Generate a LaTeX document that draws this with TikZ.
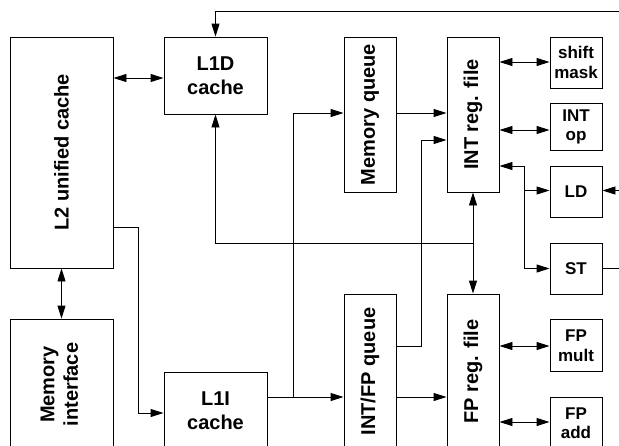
\documentclass[tikz,border=0pt]{standalone}
\usepackage{fontspec}
\setmainfont{Liberation Sans}
\usetikzlibrary{arrows.meta}
\tikzset{
  box/.style={draw, line width=0.9pt, inner sep=0pt, align=center, font=\bfseries\fontsize{20}{23.5}\selectfont},
  smallbox/.style={box, minimum width=52pt, minimum height=51pt, font=\bfseries\fontsize{17}{19.5}\selectfont},
  conn/.style={line width=0.9pt, >={Triangle[length=13pt,width=8pt]}},
}
\begin{document}
\begin{tikzpicture}[x=1pt,y=-1pt]
\useasboundingbox (0,0) rectangle (619,445);
\clip (0,0) rectangle (619,445);
% boxes
\node[box, minimum width=103pt, minimum height=231pt] (L2) at (61.5,152.5) {\rotatebox{90}{L2 unified cache}};
\node[box, minimum width=103pt, minimum height=77pt] (L1D) at (215.5,75.5) {L1D\\cache};
\node[box, minimum width=52pt, minimum height=155pt] (MemQ) at (370,114.5) {\rotatebox{90}{Memory queue}};
\node[box, minimum width=52pt, minimum height=155pt] (INTreg) at (473,114.5) {\rotatebox{90}{INT reg. file}};
\node[smallbox] (shift) at (576,62.5) {shift\\mask};
\node[smallbox, minimum height=47pt] (INTop) at (576,127) {INT\\op};
\node[smallbox] (LD) at (576,191.5) {LD};
\node[smallbox] (ST) at (576,268.5) {ST};
\node[smallbox, minimum height=52pt] (FPmult) at (576,345.5) {FP\\mult};
\node[smallbox, minimum height=52pt] (FPadd) at (576,423) {FP\\add};
\node[box, minimum width=103pt, minimum height=131pt] (MemIf) at (61.5,384.5) {\rotatebox{90}{\begin{tabular}{@{}c@{}}Memory\\interface\end{tabular}}};
\node[box, minimum width=103pt, minimum height=77pt] (L1I) at (215.5,410.5) {L1I\\cache};
\node[box, minimum width=52pt, minimum height=155pt] (IFQ) at (370,371.5) {\rotatebox{90}{INT/FP queue}};
\node[box, minimum width=52pt, minimum height=155pt] (FPreg) at (473,371.5) {\rotatebox{90}{FP reg. file}};
% free ends and junctions
\coordinate (topR) at (625,11);
\coordinate (ldR) at (625,190.5);
\coordinate (stR) at (625,268.5);
\coordinate (jL1D) at (473,243);
\coordinate (jL1I) at (293,397);
\coordinate (jLD) at (524,190.5);
% connectors
\draw[conn,<->] (L2.east |- 0,78) -- (L1D.west |- 0,78);
\draw[conn,<->] (L2.south) -- (MemIf.north);
\draw[conn,->] (L2.east |- 0,227) -- (138,227) -- (138,413) -- (L1I.west |- 0,413);
\draw[conn,->] (topR) -| (L1D.north);
\draw[conn,->] (jL1D) -| (L1D.south);
\draw[conn,<->] (INTreg.south) -- (FPreg.north);
\draw[conn,->] (L1I.east |- jL1I) -- (jL1I) |- (MemQ.west |- 0,113);
\draw[conn,->] (jL1I) -- (IFQ.west |- jL1I);
\draw[conn,->] (MemQ.east |- 0,113) -- (INTreg.west |- 0,113);
\draw[conn,->] (IFQ.east |- 0,346) -- (421,346) -- (421,140) -- (INTreg.west |- 0,140);
\draw[conn,->] (IFQ.east |- jL1I) -- (FPreg.west |- jL1I);
\draw[conn,<->] (INTreg.east |- 0,62) -- (shift.west |- 0,62);
\draw[conn,<->] (INTreg.east |- 0,130) -- (INTop.west |- 0,130);
\draw[conn,->] (jLD) |- (INTreg.east |- 0,166);
\draw[conn,->] (jLD) -- (LD.west |- jLD);
\draw[conn,->] (jLD) |- (ST.west);
\draw[conn,->] (ldR) -- (LD.east |- ldR);
\draw[conn] (ST.east) -- (stR);
\draw[conn,<->] (FPreg.east |- 0,346) -- (FPmult.west |- 0,346);
\draw[conn,<->] (FPreg.east |- 0,422) -- (FPadd.west |- 0,422);
\end{tikzpicture}
\end{document}
